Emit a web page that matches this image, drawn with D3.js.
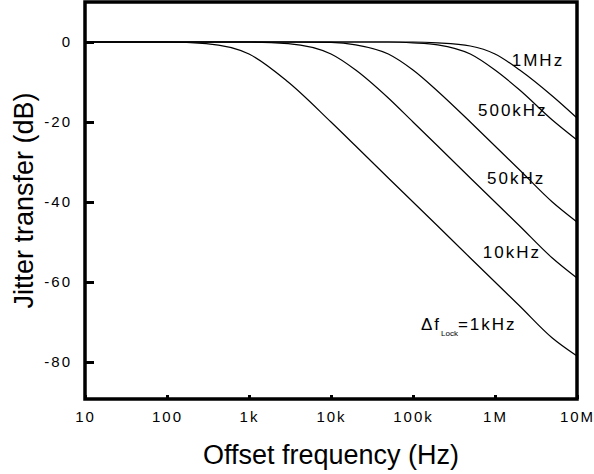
<!DOCTYPE html>
<html lang="en">
<head>
<meta charset="utf-8">
<title>Jitter transfer</title>
<script src="https://cdn.jsdelivr.net/npm/d3@7"></script>
<style>
  body { margin: 0; background: #fff; }
  .tick text { font: 15px "Liberation Sans", Arial, sans-serif; letter-spacing: 2px; }
  .title { font: 27px "Liberation Sans", Arial, sans-serif; fill: #000; }
  .lbl { font: 17px "Liberation Sans", Arial, sans-serif; letter-spacing: 2px; }
</style>
</head>
<body>
<script>
// frequency points (Hz) and jitter transfer (dB)
var freqs   = [10, 100, 300, 1e3, 3e3, 1e4, 2e4, 5e4, 1e5, 2e5, 5e5, 1e6, 2e6, 5e6, 1e7];
var lock1k   = [0, 0, -0.4, -3, -10, -20, -26, -34, -40, -46, -54, -60, -66, -74, -78.5];
var lock10k  = [0, 0, 0, 0, -0.4, -3, -7, -14, -20, -26, -34, -40, -46, -54, -59];
var lock50k  = [0, 0, 0, 0, 0, -0.1, -0.7, -3, -7, -12.3, -20, -26, -32, -40, -45];
var lock500k = [0, 0, 0, 0, 0, 0, 0, 0, -0.2, -0.7, -3, -7, -12, -19.5, -24.5];
var lock1M   = [0, 0, 0, 0, 0, 0, 0, 0, 0, -0.2, -1, -3, -7, -13.5, -19];
var series = [lock1k, lock10k, lock50k, lock500k, lock1M];

var xTicks = [10, 100, 1e3, 1e4, 1e5, 1e6, 1e7];
var xTickText = ["10", "100", "1k", "10k", "100k", "1M", "10M"];
var yTicks = [0, -20, -40, -60, -80];

var margin = {top: 2, right: 17, bottom: 75, left: 85},
    width = 594 - margin.left - margin.right,
    height = 474 - margin.top - margin.bottom;

var svg = d3.select("body").append("svg")
    .attr("width", 594)
    .attr("height", 474);
var g = svg.append("g")
    .attr("transform", "translate(" + margin.left + "," + margin.top + ")");

var x = d3.scaleLog().domain([10, 1e7]).range([0, width]);
var y = d3.scaleLinear().domain([-89.25, 10]).range([height, 0]);

// curves
var line = d3.line()
    .x(function(d) { return x(d[0]); })
    .y(function(d) { return y(d[1]); })
    .curve(d3.curveMonotoneX);

series.forEach(function(s) {
  g.append("path")
      .datum(freqs.map(function(f, i) { return [f, s[i]]; }))
      .attr("fill", "none")
      .attr("stroke", "#000")
      .attr("stroke-width", 1.2)
      .attr("d", line);
});

// axes
g.append("g")
    .attr("transform", "translate(0," + height + ")")
    .call(d3.axisBottom(x).tickValues(xTicks)
      .tickFormat(function(d, i) { return xTickText[i]; })
      .tickSize(-4).tickPadding(12))
    .call(function(a) { a.select(".domain").remove(); a.selectAll("line").attr("stroke-width", 3); });

g.append("g")
    .call(d3.axisLeft(y).tickValues(yTicks).tickFormat(function(d) { return String(d); })
      .tickSize(-9).tickPadding(13))
    .call(function(a) { a.select(".domain").remove(); a.selectAll("line").attr("stroke-width", 3); });

// frame
g.append("rect")
    .attr("width", width)
    .attr("height", height)
    .attr("fill", "none")
    .attr("stroke", "#000")
    .attr("stroke-width", 3.5);

// curve labels
var labels = [
  {t: "1MHz", f: 1.6e6, v: -4.5},
  {t: "500kHz", f: 6.2e5, v: -17},
  {t: "50kHz", f: 8e5, v: -34},
  {t: "10kHz", f: 7.1e5, v: -52.5}
];
labels.forEach(function(d) {
  g.append("text").attr("class", "lbl")
      .attr("x", x(d.f)).attr("y", y(d.v))
      .attr("dy", "0.35em")
      .text(d.t);
});
var lock = g.append("text").attr("class", "lbl")
    .attr("x", x(1.25e5)).attr("y", y(-70.5)).attr("dy", "0.35em");
lock.append("tspan").text("\u0394f");
lock.append("tspan").attr("dy", 6).style("font-size", "8px").style("letter-spacing", "0px").text("Lock");
lock.append("tspan").attr("dy", -6).text("=1kHz");

// axis titles
svg.append("text").attr("class", "title")
    .attr("x", margin.left + width / 2).attr("y", 464)
    .attr("text-anchor", "middle")
    .text("Offset frequency (Hz)");
svg.append("text").attr("class", "title")
    .attr("transform", "translate(33," + (margin.top + height / 2) + ") rotate(-90)")
    .attr("text-anchor", "middle")
    .text("Jitter transfer (dB)");
</script>
</body>
</html>
